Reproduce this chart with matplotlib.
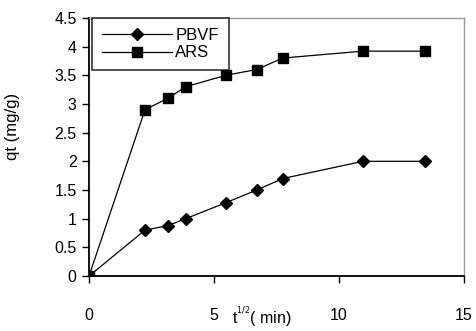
import matplotlib

matplotlib.use("Agg")

import matplotlib.pyplot as plt  # noqa: E402

# sqrt(t) values for sampling times 0, 5, 10, 15, 30, 45, 60, 120, 180 min
t_sqrt = [0, 2.24, 3.16, 3.87, 5.48, 6.71, 7.75, 10.95, 13.42]
qt_pbvf = [0, 0.80, 0.88, 1.00, 1.28, 1.50, 1.70, 2.00, 2.00]
qt_ars = [0, 2.90, 3.10, 3.30, 3.50, 3.60, 3.80, 3.92, 3.92]

x_ticks = [0, 5, 10, 15]
y_ticks = [0, 0.5, 1, 1.5, 2, 2.5, 3, 3.5, 4, 4.5]

plt.rcParams["font.family"] = ["Liberation Sans", "DejaVu Sans"]

fig = plt.figure(figsize=(4.76, 3.31), dpi=100)
ax = fig.add_axes([0.187, 0.166, 0.788, 0.780])

ax.plot(t_sqrt, qt_pbvf, color="black", lw=0.9, marker="D", ms=6, label="PBVF")
ax.plot(t_sqrt, qt_ars, color="black", lw=0.9, marker="s", ms=7, label="ARS")

ax.set_xlim(0, 15)
ax.set_ylim(0, 4.5)
ax.set_xticks(x_ticks)
ax.set_yticks(y_ticks)
ax.set_yticklabels([f"{v:g}" for v in y_ticks])
ax.tick_params(axis="x", direction="out", length=5, width=1, pad=18, labelsize=11.5)
ax.tick_params(axis="y", direction="out", length=5, width=1, pad=4, labelsize=11.5)

for side in ("top", "right"):
    ax.spines[side].set_color("#999999")
    ax.spines[side].set_linewidth(1)
for side in ("left", "bottom"):
    ax.spines[side].set_color("black")
    ax.spines[side].set_linewidth(1.3)

ax.set_ylabel("qt (mg/g)", fontsize=12)
ax.yaxis.set_label_coords(-0.185, 0.58)
fig.text(0.488, 0.02, r"t$^{^{1/2}}$( min)", fontsize=11.5)

leg = ax.legend(loc="upper left", bbox_to_anchor=(0.008, 1.0), fontsize=12,
                frameon=True, fancybox=False, edgecolor="black", handlelength=4.2,
                borderpad=0.6, labelspacing=0.15, handletextpad=0.2, borderaxespad=0)
leg.get_frame().set_linewidth(1.2)

fig.savefig("out.png", dpi=100)
